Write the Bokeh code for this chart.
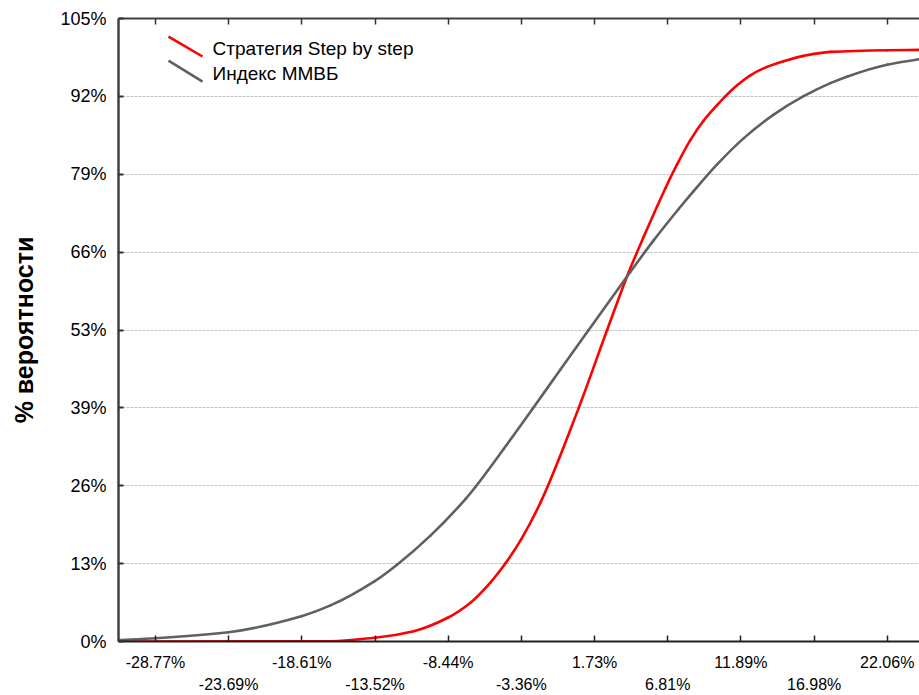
from bokeh.plotting import figure
from bokeh.models import FixedTicker, LinearAxis, Range1d
from bokeh.core.properties import value
from bokeh.embed import file_html
from bokeh.resources import INLINE

FONT = "Liberation Sans"

# ---- data ----
X_MIN, X_MAX = -31.34, 24.30
Y_MIN, Y_MAX = 0.0, 105.0

X_TICKS = [-28.77, -23.69, -18.61, -13.52, -8.44, -3.36, 1.73, 6.81, 11.89, 16.98, 22.06]
X_TICK_LABELS = ["-28.77%", "-23.69%", "-18.61%", "-13.52%", "-8.44%", "-3.36%",
                 "1.73%", "6.81%", "11.89%", "16.98%", "22.06%"]
Y_TICKS = [0, 13.125, 26.25, 39.375, 52.5, 65.625, 78.75, 91.875, 105]
Y_TICK_LABELS = ["0%", "13%", "26%", "39%", "53%", "66%", "79%", "92%", "105%"]

SERIES_NAMES = ["Стратегия Step by step", "Индекс ММВБ"]
SERIES_COLORS = ["#ff0000", "#606060"]

X_STRATEGY = [-31.34, -18.63, -16.62, -13.54, -10.83, -8.47, -6.89, -5.51, -4.46, -3.37,
              -2.03, 0.63, 2.60, 4.10, 5.14, 6.07, 6.65, 7.46, 8.38, 9.31,
              10.24, 10.81, 11.63, 12.55, 13.71, 14.86, 16.25, 18.11, 22.04, 24.28]
Y_STRATEGY = [0.0, 0.02, 0.05, 0.62, 1.74, 4.00, 6.53, 9.91, 13.17, 17.22,
              23.40, 39.38, 52.50, 62.24, 68.20, 73.30, 76.40, 80.40, 84.50, 87.80,
              90.40, 91.87, 93.74, 95.43, 96.84, 97.79, 98.70, 99.37, 99.65, 99.71]

X_INDEX = [-31.34, -28.77, -23.70, -18.63, -16.62, -13.54, -11.99, -9.67, -7.24, -6.55,
           -4.60, -2.61, -0.64, 1.32, 4.22, 5.83, 7.57, 8.61, 10.24, 12.08,
           14.17, 16.25, 18.11, 19.26, 22.04, 24.28]
Y_INDEX = [0.25, 0.56, 1.57, 4.27, 6.08, 10.18, 12.95, 17.85, 24.00, 26.05,
           32.40, 39.10, 45.85, 52.50, 62.30, 67.60, 72.90, 75.90, 80.40, 84.80,
           88.80, 91.90, 94.10, 95.20, 97.20, 98.13]


def smooth_bezier(xs, ys):
    """Monotone cubic (Fritsch-Carlson) segments through the read points,
    returned as Bezier control points (the original chart uses smoothed lines)."""
    n = len(xs)
    h = [xs[i + 1] - xs[i] for i in range(n - 1)]
    d = [(ys[i + 1] - ys[i]) / h[i] for i in range(n - 1)]
    m = [0.0] * n
    m[0], m[-1] = d[0], d[-1]
    for i in range(1, n - 1):
        if d[i - 1] * d[i] <= 0:
            m[i] = 0.0
        else:
            w1 = 2 * h[i] + h[i - 1]
            w2 = h[i] + 2 * h[i - 1]
            m[i] = (w1 + w2) / (w1 / d[i - 1] + w2 / d[i])
    seg = dict(x0=[], y0=[], x1=[], y1=[], cx0=[], cy0=[], cx1=[], cy1=[])
    for i in range(n - 1):
        seg["x0"].append(xs[i]); seg["y0"].append(ys[i])
        seg["x1"].append(xs[i + 1]); seg["y1"].append(ys[i + 1])
        seg["cx0"].append(xs[i] + h[i] / 3); seg["cy0"].append(ys[i] + m[i] * h[i] / 3)
        seg["cx1"].append(xs[i + 1] - h[i] / 3); seg["cy1"].append(ys[i + 1] - m[i + 1] * h[i] / 3)
    return seg


p = figure(width=919, height=695,
           x_range=Range1d(X_MIN, X_MAX), y_range=Range1d(Y_MIN, Y_MAX),
           output_backend="svg", toolbar_location=None,
           min_border_left=118, min_border_right=0, min_border_top=18, min_border_bottom=0)
p.outline_line_color = None
p.background_fill_color = "white"
p.border_fill_color = "white"

# ---- y axis ----
yax = p.yaxis[0]
yax.ticker = FixedTicker(ticks=Y_TICKS)
yax.major_label_overrides = {t: l for t, l in zip(Y_TICKS, Y_TICK_LABELS)}
yax.major_label_text_font = FONT
yax.major_label_text_font_size = "18px"
yax.major_label_text_color = "#000000"
yax.major_label_standoff = 12
yax.major_tick_in = 5
yax.major_tick_out = 0
yax.major_tick_line_color = "#303030"
yax.major_tick_line_width = 2
yax.minor_tick_line_color = None
yax.axis_line_color = "#404040"
yax.axis_line_width = 2.5
yax.axis_label = "% вероятности"
yax.axis_label_text_font = FONT
yax.axis_label_text_font_size = "25px"
yax.axis_label_text_font_style = "bold"
yax.axis_label_text_color = "#000000"
yax.axis_label_standoff = 19

# ---- x axis (staggered labels: two rows) ----
xax = p.xaxis[0]
xax.ticker = FixedTicker(ticks=X_TICKS)
xax.major_label_overrides = {t: (l if i % 2 == 0 else "") for i, (t, l) in enumerate(zip(X_TICKS, X_TICK_LABELS))}
xax.major_label_text_font = FONT
xax.major_label_text_font_size = "16px"
xax.major_label_text_color = "#000000"
xax.major_label_standoff = 12
xax.major_tick_in = 6
xax.major_tick_out = 0
xax.major_tick_line_color = "#202020"
xax.major_tick_line_width = 1.5
xax.minor_tick_line_color = None
xax.axis_line_color = "#202020"
xax.axis_line_width = 2

xax2 = LinearAxis(ticker=FixedTicker(ticks=X_TICKS))
xax2.major_label_overrides = {t: (l if i % 2 == 1 else "") for i, (t, l) in enumerate(zip(X_TICKS, X_TICK_LABELS))}
xax2.major_label_text_font = FONT
xax2.major_label_text_font_size = "16px"
xax2.major_label_text_color = "#000000"
xax2.major_label_standoff = -4
xax2.axis_line_color = None
xax2.major_tick_line_color = None
xax2.minor_tick_line_color = None
p.add_layout(xax2, "below")

# ---- top axis (ticks only) ----
xtop = LinearAxis(ticker=FixedTicker(ticks=X_TICKS))
xtop.major_label_overrides = {t: "" for t in X_TICKS}
xtop.major_label_standoff = 0
xtop.major_tick_in = 6
xtop.major_tick_out = 0
xtop.major_tick_line_color = "#303030"
xtop.major_tick_line_width = 1.5
xtop.minor_tick_line_color = None
xtop.axis_line_color = "#404040"
xtop.axis_line_width = 2
p.add_layout(xtop, "above")

# ---- grid ----
p.xgrid.grid_line_color = None
p.ygrid.ticker = FixedTicker(ticks=Y_TICKS)
p.ygrid.grid_line_color = "#c4c4c4"
p.ygrid.grid_line_dash = "3 1"
p.ygrid.grid_line_width = 1

# ---- curves (smoothed through the read points) ----
for xs_, ys_, col in [(X_STRATEGY, Y_STRATEGY, SERIES_COLORS[0]), (X_INDEX, Y_INDEX, SERIES_COLORS[1])]:
    s = smooth_bezier(xs_, ys_)
    p.bezier(x0=s["x0"], y0=s["y0"], x1=s["x1"], y1=s["y1"],
             cx0=s["cx0"], cy0=s["cy0"], cx1=s["cx1"], cy1=s["cy1"],
             line_color=col, line_width=2.6, line_cap="round")

# ---- legend (diagonal strokes, placed as fractions of the frame) ----
xs = X_MAX - X_MIN
ys = Y_MAX - Y_MIN
p.segment(x0=[X_MIN + 0.0624 * xs, X_MIN + 0.0624 * xs],
          y0=[Y_MIN + 0.971 * ys, Y_MIN + 0.9325 * ys],
          x1=[X_MIN + 0.1049 * xs, X_MIN + 0.1049 * xs],
          y1=[Y_MIN + 0.939 * ys, Y_MIN + 0.8987 * ys],
          line_color=SERIES_COLORS, line_width=2.6)
p.text(x=[X_MIN + 0.1174 * xs, X_MIN + 0.1174 * xs],
       y=[Y_MIN + 0.9517 * ys, Y_MIN + 0.9115 * ys],
       text=SERIES_NAMES, text_font=value(FONT), text_font_size="19px",
       text_baseline="middle", text_align="left", text_color="#000000")

open("out.html", "w").write(file_html(p, INLINE))
